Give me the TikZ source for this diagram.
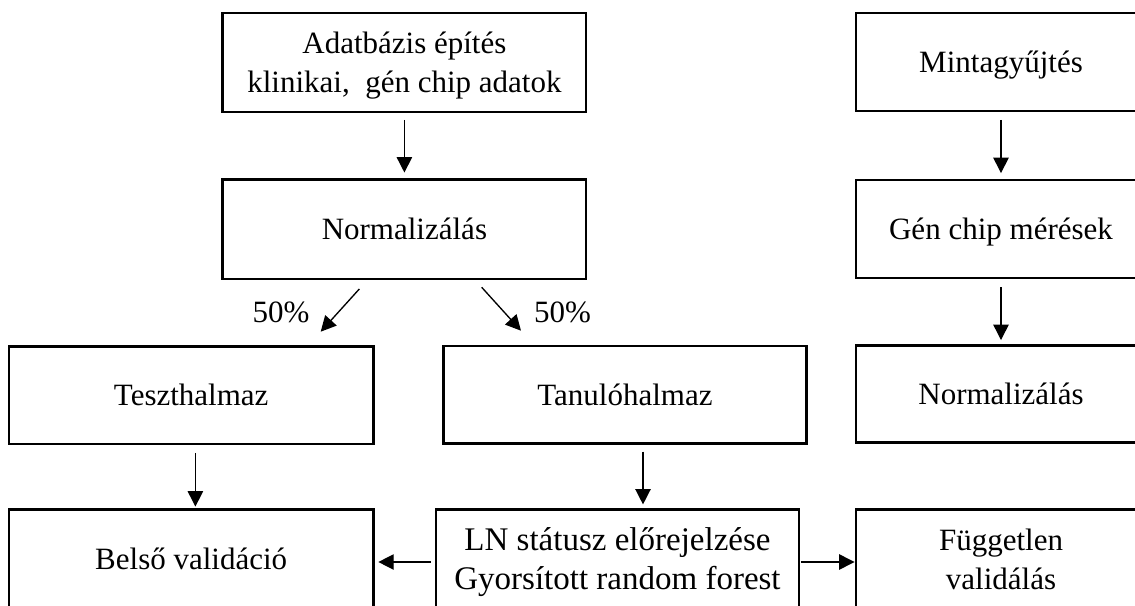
\documentclass[tikz,border=0pt]{standalone}
\usepackage{fontspec}
\setmainfont{Liberation Serif}
\usetikzlibrary{arrows.meta}
\begin{document}
\begin{tikzpicture}[x=0.75pt,y=-0.75pt,
  txt/.style={font=\fontsize{23.25}{29.6}\selectfont},
  box/.style={txt, draw, line width=1.9pt, inner sep=0pt, outer sep=0pt,
    align=center, text depth=0pt},
  one/.style={text height=15.4pt},
  two/.style={text height=45pt},
  wide/.style={minimum width=272.5pt},
  narrow/.style={minimum width=217.5pt},
  arr/.style={-{Triangle[length=11.5pt,width=11.5pt]}, line width=1pt},
  lbl/.style={txt, inner sep=0pt}
]
\useasboundingbox (0,0) rectangle (1135,606);
\clip (0,0) rectangle (1135,606);

% left branch: database building and splitting
\node[box, two, wide, minimum height=74.25pt] (adat) at (404.4,62.5)
  {Adatbázis építés\\klinikai,\ \ gén chip adatok};
\node[box, one, wide, minimum height=74.6pt] (norm1) at (404.4,229.2) {Normalizálás};
\node[box, one, minimum width=273.2pt, minimum height=73.1pt] (teszt) at (191.2,395.2) {Teszthalmaz};
\node[box, one, wide, minimum height=73.1pt] (tanulo) at (625,394.8) {Tanulóhalmaz};

% bottom row
\node[box, one, minimum width=273.2pt, minimum height=75pt] (belso) at (191.2,559.5) {Belső validáció};
\node[box, two, minimum width=272.2pt, minimum height=75pt,
  font=\fontsize{24.75}{29.6}\selectfont, text height=45.5pt] (ln) at (617.5,559.5)
  {LN státusz előrejelzése\\Gyorsított random forest};
\node[box, two, narrow, minimum height=75pt] (fugg) at (1001,559.5) {Független\\validálás};

% right branch: independent samples
\node[box, one, narrow, minimum height=73.5pt] (minta) at (1001,62) {Mintagyűjtés};
\node[box, one, narrow, minimum height=73.5pt] (gen) at (1001,229) {Gén chip mérések};
\node[box, one, narrow, minimum height=72.75pt] (norm2) at (1001,394) {Normalizálás};

% split labels
\node[lbl] (p1) at (281,312) {50\%};
\node[lbl] (p2) at (562.5,312) {50\%};

% helper coordinates
\coordinate (d1s) at (359.3,289);
\coordinate (d1e) at (320.7,331.7);
\coordinate (d2s) at (481.7,287.3);
\coordinate (d2e) at (521,330.7);
\coordinate (cT) at (195.4,0);
\coordinate (cL) at (643,0);
\coordinate (rowY) at (0,562);

% connectors
\draw[arr, shorten <=6pt, shorten >=5.2pt] (adat) -- (norm1);
\draw[arr] (d1s) -- (d1e);
\draw[arr] (d2s) -- (d2e);
\draw[arr, shorten <=6.75pt, shorten >=2.2pt] (teszt.south -| cT) -- (belso.north -| cT);
\draw[arr, shorten <=6pt, shorten >=3.8pt] (tanulo.south -| cL) -- (ln.north -| cL);
\draw[arr, shorten <=3.75pt, shorten >=3.75pt] (ln.west |- rowY) -- (belso.east |- rowY);
\draw[arr, shorten <=1.5pt, shorten >=1.1pt] (ln.east |- rowY) -- (fugg.west |- rowY);
\draw[arr, shorten <=6.75pt, shorten >=5.2pt] (minta) -- (gen);
\draw[arr, shorten <=6.75pt, shorten >=4.1pt] (gen) -- (norm2);
\end{tikzpicture}
\end{document}
